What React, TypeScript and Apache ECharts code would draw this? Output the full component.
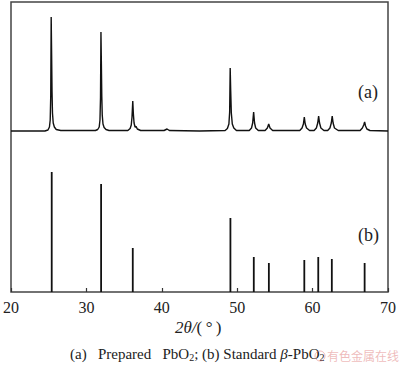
import React, { useEffect, useRef } from "react";
import * as echarts from "echarts";

// Pattern (a): measured profile, [2θ, intensity]
const PATTERN_A: number[][] = [
  [20, 0], [24.5, 0], [24.9, 1], [25.1, 4], [25.2, 11], [25.27, 35], [25.33, 114], [25.39, 75], [25.44, 40], [25.5, 18], [25.6, 8], [25.75, 4], [26.0, 1.5], [26.6, 0.5],
  [28, 0.5], [31.2, 0.5], [31.5, 1.5], [31.7, 4], [31.8, 11], [31.87, 33], [31.93, 99], [31.99, 65], [32.04, 35], [32.1, 16], [32.2, 7], [32.35, 3.5], [32.6, 1.5], [33, 0.5],
  [35.5, 0.5], [35.8, 2.5], [35.95, 6], [36.05, 14], [36.15, 30], [36.23, 17], [36.32, 8], [36.45, 4], [36.6, 4.5], [36.75, 2], [37.2, 0.5],
  [40.3, 0.5], [40.7, 2], [41.0, 0.5], [45, 0],
  [48.4, 0.5], [48.7, 2.5], [48.9, 7], [49.0, 19], [49.07, 63], [49.14, 40], [49.22, 18], [49.35, 7], [49.55, 3], [49.9, 0.5],
  [51.6, 0.5], [51.9, 3], [52.05, 8], [52.18, 19], [52.3, 8], [52.45, 3], [52.8, 0.5],
  [53.7, 0.5], [54.0, 3], [54.18, 7], [54.35, 3], [54.7, 0.5],
  [58.3, 0.5], [58.6, 3], [58.78, 7], [58.9, 14], [59.02, 7], [59.2, 3], [59.6, 0.5],
  [60.2, 0.5], [60.5, 3], [60.68, 8], [60.8, 15], [60.92, 8], [61.1, 3], [61.5, 0.5],
  [62.0, 0.5], [62.3, 3], [62.48, 8], [62.6, 15], [62.72, 8], [62.9, 3], [63.4, 0.5],
  [66.3, 0.5], [66.6, 3], [66.78, 6], [66.9, 9], [67.02, 5], [67.2, 2], [67.6, 0.5], [70, 0],
];

// Pattern (b): standard β-PbO2 reference lines
const STD_POS: number[] = [25.4, 31.95, 36.15, 49.1, 52.2, 54.2, 58.9, 60.75, 62.55, 66.9];
const STD_INT: number[] = [120, 108, 44, 74, 35, 29, 32, 35, 33, 29];

const X_TICKS = [20, 30, 40, 50, 60, 70];
const OFFSET_A = 161;

const SERIF = "'Liberation Serif', 'DejaVu Serif', serif";

export default function App() {
  const ref = useRef<HTMLDivElement>(null);
  useEffect(() => {
    if (!ref.current) return;
    const chart = echarts.init(ref.current, null, { renderer: "svg" });
    const aData = PATTERN_A.map(([x, y]) => [x, y + OFFSET_A]);
    const bData = STD_POS.map((x, i) => [x, STD_INT[i]]);
    chart.setOption({
      animation: false,
      backgroundColor: "#fff",
      grid: {
        left: 8,
        right: 12,
        top: 2,
        bottom: 77,
        show: true,
        borderColor: "#444",
        borderWidth: 1.5,
        backgroundColor: "transparent",
      },
      xAxis: {
        type: "value",
        min: X_TICKS[0],
        max: X_TICKS[X_TICKS.length - 1],
        interval: 10,
        axisLine: { show: false },
        axisTick: { show: true, inside: true, length: 4, lineStyle: { color: "#333", width: 1.2 } },
        splitLine: { show: false },
        axisLabel: { fontFamily: SERIF, fontSize: 16, color: "#222", margin: 7 },
      },
      yAxis: {
        type: "value",
        min: 0,
        max: 290,
        show: false,
        splitLine: { show: false },
      },
      series: [
        {
          type: "line",
          data: aData,
          symbol: "none",
          lineStyle: { color: "#111", width: 1.4 },
          z: 3,
        },
        {
          type: "bar",
          data: bData,
          barWidth: 1.8,
          itemStyle: { color: "#111" },
          z: 3,
        },
      ],
      graphic: [
        { type: "text", left: 358, top: 83, style: { text: "(a)", font: `18px ${SERIF}`, fill: "#222" } },
        { type: "text", left: 358, top: 226, style: { text: "(b)", font: `18px ${SERIF}`, fill: "#222" } },
        {
          type: "text",
          left: 175,
          top: 319,
          style: {
            text: "{i|2θ/}{n|(\u2009°\u2009)}",
            rich: {
              i: { fontFamily: SERIF, fontSize: 17, fontStyle: "italic", fill: "#222" },
              n: { fontFamily: SERIF, fontSize: 17, fill: "#222" },
            },
          },
        },
        {
          type: "text",
          left: 70,
          top: 346,
          style: {
            text: "{n|(a)   Prepared   PbO}{s|2}{n|; (b) Standard }{i|β}{n|-PbO}{s|2}",
            rich: {
              n: { fontFamily: SERIF, fontSize: 15, lineHeight: 18, fill: "#222", verticalAlign: "middle" },
              i: { fontFamily: SERIF, fontSize: 15, lineHeight: 18, fontStyle: "italic", fill: "#222", verticalAlign: "middle" },
              s: { fontFamily: SERIF, fontSize: 10, lineHeight: 10, fill: "#222", verticalAlign: "bottom" },
            },
          },
        },
        {
          type: "circle",
          shape: { cx: 320, cy: 356, r: 5 },
          style: { fill: "none", stroke: "rgba(225,130,130,0.55)", lineWidth: 1 },
        },
        {
          type: "text",
          left: 327,
          top: 349,
          style: { text: "有色金属在线", font: `12px 'Noto Sans CJK SC'`, fill: "rgba(225,130,130,0.55)" },
        },
      ],
    });
    return () => chart.dispose();
  }, []);
  return <div ref={ref} style={{ width: 400, height: 369, position: "absolute", left: 0, top: 0 }} />;
}
